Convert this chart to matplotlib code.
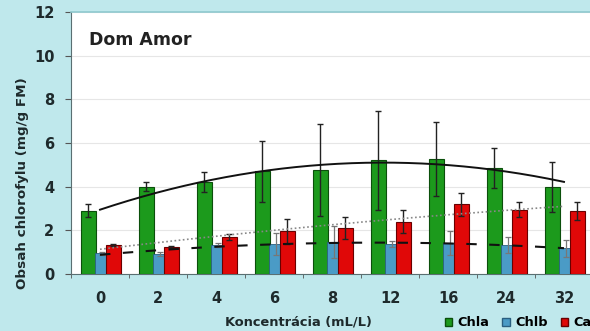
import numpy as np
import matplotlib
matplotlib.use("Agg")
import matplotlib.pyplot as plt
from matplotlib.patches import Patch

# Chlorophyll content per concentration (mg/g FM)
concentrations = ["0", "2", "4", "6", "8", "12", "16", "24", "32"]
chla = [2.9, 4.0, 4.2, 4.7, 4.75, 5.2, 5.25, 4.85, 4.0]
chla_err = [0.3, 0.2, 0.45, 1.4, 2.1, 2.25, 1.7, 0.9, 1.15]
chlb = [0.95, 0.92, 1.33, 1.38, 1.47, 1.37, 1.4, 1.33, 1.18]
chlb_err = [0.08, 0.08, 0.1, 0.5, 0.75, 0.12, 0.55, 0.35, 0.38]
car = [1.33, 1.25, 1.7, 1.95, 2.12, 2.4, 3.2, 2.94, 2.89]
car_err = [0.06, 0.05, 0.15, 0.57, 0.5, 0.54, 0.53, 0.35, 0.4]

BG = "#bfe8ec"
GREEN, GREEN_EDGE = "#1c9a1c", "#0b4f0b"
BLUE, BLUE_EDGE = "#4a9bc6", "#2a5f80"
RED, RED_EDGE = "#e00808", "#6a0000"
TEXT = "#1e2a2c"

plt.rcParams["font.family"] = ["DejaVu Sans"]
plt.rcParams["font.weight"] = "bold"

fig = plt.figure(figsize=(5.9, 3.31), dpi=100, facecolor=BG)
ax = fig.add_axes([71 / 590, 57 / 331, 522 / 590, 262 / 331])
ax.set_facecolor("white")

x = np.arange(len(concentrations))
err_kw = dict(ecolor="#222222", elinewidth=1.0, capsize=2.5, capthick=1.0)

ax.bar(x - 0.20, chla, width=0.26, color=GREEN, edgecolor=GREEN_EDGE, linewidth=0.8,
       yerr=chla_err, error_kw=err_kw, zorder=3, label="Chla")
ax.bar(x + 0.03, chlb, width=0.22, color=BLUE, edgecolor=BLUE_EDGE, linewidth=0.6,
       yerr=chlb_err, error_kw=dict(ecolor="#777777", elinewidth=0.9, capsize=2, capthick=0.9),
       zorder=3, label="Chlb")
ax.bar(x + 0.23, car, width=0.25, color=RED, edgecolor=RED_EDGE, linewidth=0.8,
       yerr=car_err, error_kw=err_kw, zorder=4, label="Car")

# Second-order polynomial trend lines
xs = np.linspace(0, 8, 200)
for vals, style in ((chla, dict(color="#111111", lw=1.4, ls="-")),
                    (chlb, dict(color="#111111", lw=1.5, ls=(0, (5, 6)))),
                    (car, dict(color="#888888", lw=1.2, ls=(0, (1, 1.5))))):
    coef = np.polyfit(x, vals, 2)
    ax.plot(xs, np.polyval(coef, xs), zorder=6, **style)

ax.set_xlim(-0.5, 8.5)
ax.set_ylim(0, 12)
ax.set_yticks(np.arange(0, 13, 2))
ax.yaxis.grid(True, color="#e6e6e6", lw=0.8, zorder=0)
ax.set_axisbelow(True)

ax.set_xticks(x)
ax.set_xticklabels(concentrations, fontsize=10.5, fontweight="bold", color=TEXT)
ax.set_xticks(np.arange(-0.5, 8.6, 1), minor=True)
ax.tick_params(axis="x", which="major", length=0, pad=12)
ax.tick_params(axis="x", which="minor", length=3, direction="out", color="#555555")
ax.tick_params(axis="y", length=4, direction="out", color="#555555", labelsize=10.5,
               pad=8, labelcolor=TEXT)
for lbl in ax.get_yticklabels():
    lbl.set_fontweight("bold")

ax.spines["right"].set_visible(False)
ax.spines["top"].set_color("#8fc9ce")
ax.spines["top"].set_linewidth(1.2)
ax.spines["left"].set_color("#5a6f72")
ax.spines["bottom"].set_color("#5a6f72")

ax.text(0.035, 0.875, "Dom Amor", transform=ax.transAxes, fontsize=12.5,
        fontweight="bold", color="#222222")

fig.text(23 / 590, 148 / 331, "Obsah chlorofylu (mg/g FM)", rotation=90,
         ha="center", va="center", fontsize=9.7, fontweight="bold", color=TEXT)
fig.text(298 / 590, 9 / 331, "Koncentrácia (mL/L)", ha="center", va="center",
         fontsize=9.4, fontweight="bold", color=TEXT)

handles = [Patch(facecolor=GREEN, edgecolor=GREEN_EDGE),
           Patch(facecolor=BLUE, edgecolor=BLUE_EDGE),
           Patch(facecolor=RED, edgecolor=RED_EDGE)]
fig.legend(handles, ["Chla", "Chlb", "Car"], loc="center left",
           bbox_to_anchor=(433 / 590, 8 / 331), ncol=3, frameon=False,
           handlelength=0.6, handleheight=0.6, handletextpad=0.4,
           columnspacing=1.0, prop=dict(weight="bold", size=9.3))

fig.savefig("out.png", dpi=100, facecolor=BG)
